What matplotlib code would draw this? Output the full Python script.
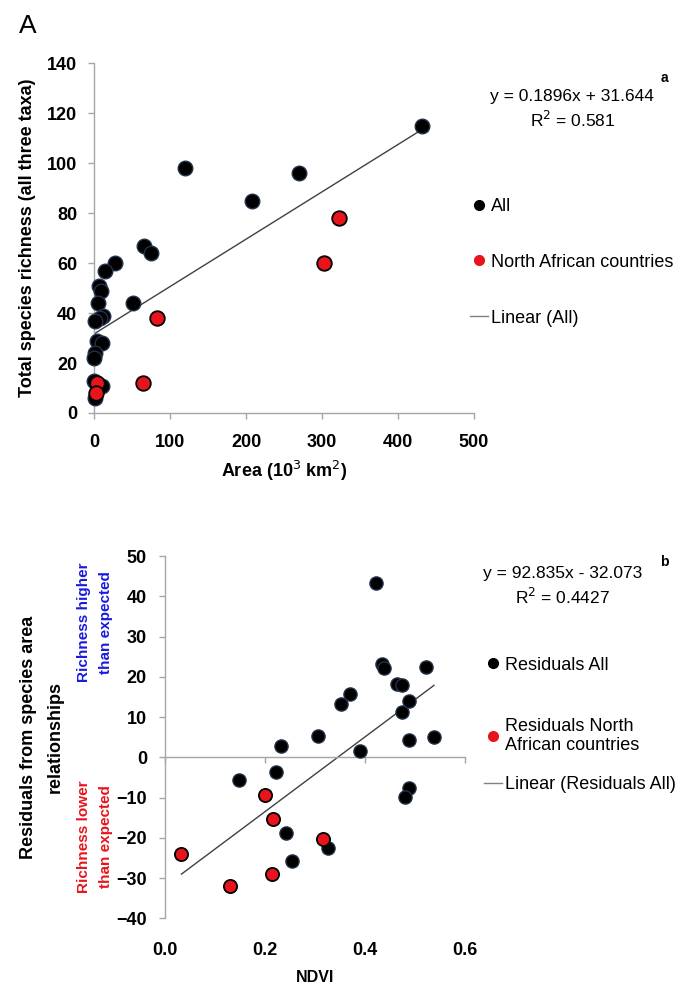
import matplotlib
matplotlib.use("Agg")
import matplotlib.pyplot as plt
import numpy as np
from matplotlib.lines import Line2D

plt.rcParams['font.family'] = ['Liberation Sans', 'DejaVu Sans']

# ---- panel A: species richness vs area ----
area_all = [120, 270, 208, 66, 75, 27, 15, 6, 9, 5, 51, 12, 8, 1, 4, 10, 1, 0.5, 0.5, 10, 1, 432]
rich_all = [98, 96, 85, 67, 64, 60, 57, 51, 49, 44, 44, 39, 38, 37, 29, 28, 24, 22, 13, 11, 6, 115]
area_na = [3.5, 2.5, 65, 83, 303, 322]
rich_na = [12, 8, 12, 38, 60, 78]
fit_a = (0.1896, 31.644)
eq_a = ["y = 0.1896x + 31.644", "R$^2$ = 0.581"]
legend_a = ["All", "North African countries", "Linear (All)"]

# ---- panel B: residuals vs NDVI ----
ndvi_all = [0.149, 0.232, 0.223, 0.307, 0.243, 0.255, 0.327, 0.352, 0.370, 0.422, 0.435,
            0.438, 0.523, 0.465, 0.475, 0.488, 0.475, 0.488, 0.538, 0.390, 0.489, 0.480]
resid_all = [-5.6, 2.7, -3.7, 5.3, -18.9, -25.8, -22.6, 13.2, 15.7, 43.4, 23.3,
             22.3, 22.5, 18.2, 18.0, 14.0, 11.3, 4.3, 5.0, 1.6, -7.7, -9.8]
ndvi_na = [0.201, 0.217, 0.317, 0.033, 0.215, 0.131]
resid_na = [-9.4, -15.2, -20.4, -24.1, -29.1, -31.9]
fit_b = (92.835, -32.073)
eq_b = ["y = 92.835x - 32.073", "R$^2$ = 0.4427"]
legend_b = ["Residuals All", "Residuals North\nAfrican countries", "Linear (Residuals All)"]

RED = "#e8141c"
BLUE = "#1a1ae0"
BLK_EDGE = "#22324a"
AXC = "#a6a6a6"
LINEC = "#404040"

fig = plt.figure(figsize=(6.75, 9.88), dpi=100)


def style_axes(ax):
    for s in ["top", "right"]:
        ax.spines[s].set_visible(False)
    for s in ["left", "bottom"]:
        ax.spines[s].set_color(AXC)
        ax.spines[s].set_linewidth(1.0)
    ax.tick_params(colors=AXC, length=4, width=1.0, labelcolor="black", labelsize=13)
    for lab in ax.get_xticklabels() + ax.get_yticklabels():
        lab.set_fontweight("bold")


def legend_handles():
    return [
        Line2D([], [], ls="none", marker="o", ms=7, mfc="black", mec="black"),
        Line2D([], [], ls="none", marker="o", ms=7, mfc=RED, mec=RED),
        Line2D([], [], color="#808080", lw=1.0),
    ]


def legend_rows(handles, labels, x, ys):
    # one legend per entry so the rows can sit where the original has them
    for h, lab, y in zip(handles, labels, ys):
        fig.legend([h], [lab], loc="center left", bbox_to_anchor=(x, y), frameon=False,
                   fontsize=13, handlelength=1.0, handletextpad=0.15,
                   borderaxespad=0, borderpad=0)


# Panel A
axA = fig.add_axes([0.1393, 0.582, 0.563, 0.354])
xs = np.array([min(area_all + area_na), max(area_all + area_na)])
axA.plot(xs, fit_a[0] * xs + fit_a[1], color=LINEC, lw=1.0, zorder=2)
axA.scatter(area_all, rich_all, s=110, c="black", edgecolors=BLK_EDGE, linewidths=1.0,
            zorder=3, clip_on=False)
axA.scatter(area_na, rich_na, s=110, c=RED, edgecolors="black", linewidths=1.3,
            zorder=4, clip_on=False)
axA.set_xlim(0, 500)
axA.set_ylim(0, 140)
axA.set_xticks(range(0, 501, 100))
axA.set_yticks(range(0, 141, 20))
style_axes(axA)
axA.tick_params(axis="x", pad=11)
axA.tick_params(axis="y", pad=8)
axA.set_xlabel("Area (10$^3$ km$^2$)", fontsize=13, fontweight="bold", labelpad=6)
axA.set_ylabel("Total species richness (all three taxa)", fontsize=13, fontweight="bold",
               labelpad=8)

fig.text(0.028, 0.974, "A", fontsize=19, va="center", ha="left")
fig.text(0.99, 0.921, "a", fontsize=10, fontweight="bold", ha="right", va="center")
fig.text(0.848, 0.902, eq_a[0], fontsize=12.5, ha="center", va="center")
fig.text(0.848, 0.879, eq_a[1], fontsize=12.5, ha="center", va="center")
legend_rows(legend_handles(), legend_a, 0.696, [0.7905, 0.7348, 0.6781])

# Panel B
axB = fig.add_axes([0.2444, 0.0705, 0.4444, 0.3667])
xb = np.array([min(ndvi_all + ndvi_na), max(ndvi_all + ndvi_na)])
axB.plot(xb, fit_b[0] * xb + fit_b[1], color=LINEC, lw=1.0, zorder=2)
axB.scatter(ndvi_all, resid_all, s=90, c="black", edgecolors=BLK_EDGE, linewidths=1.0,
            zorder=3, clip_on=False)
axB.scatter(ndvi_na, resid_na, s=90, c=RED, edgecolors="black", linewidths=1.3,
            zorder=4, clip_on=False)
axB.set_xlim(0, 0.6)
axB.set_ylim(-40, 50)
axB.set_yticks(range(-40, 51, 10))
axB.set_xticks([0.0, 0.2, 0.4, 0.6])
style_axes(axB)
axB.tick_params(axis="y", pad=9)
axB.spines["bottom"].set_position(("data", 0))
axB.tick_params(axis="x", labelbottom=False)
sec = axB.secondary_xaxis(0)
sec.set_xticks([0.0, 0.2, 0.4, 0.6])
sec.set_xticklabels(["0.0", "0.2", "0.4", "0.6"])
sec.spines["bottom"].set_visible(False)
sec.tick_params(length=0, pad=17, labelsize=13)
for lab in sec.get_xticklabels():
    lab.set_fontweight("bold")
sec.set_xlabel("NDVI", fontsize=11.5, fontweight="bold", labelpad=8)
axB.set_ylabel("Residuals from species area\nrelationships", fontsize=13,
               fontweight="bold", labelpad=38, linespacing=1.7)

fig.text(0.1407, 0.370, "Richness higher\nthan expected", rotation=90, color=BLUE,
         fontsize=11, fontweight="bold", ha="center", va="center", linespacing=1.75)
fig.text(0.1407, 0.153, "Richness lower\nthan expected", rotation=90, color=RED,
         fontsize=11, fontweight="bold", ha="center", va="center", linespacing=1.75)

fig.text(0.99, 0.431, "b", fontsize=10, fontweight="bold", ha="right", va="center")
fig.text(0.834, 0.420, eq_b[0], fontsize=12.5, ha="center", va="center")
fig.text(0.834, 0.396, eq_b[1], fontsize=12.5, ha="center", va="center")
legend_rows(legend_handles(), legend_b, 0.717, [0.3269, 0.2551, 0.2055])

fig.savefig("out.png", dpi=100)
plt.close(fig)
